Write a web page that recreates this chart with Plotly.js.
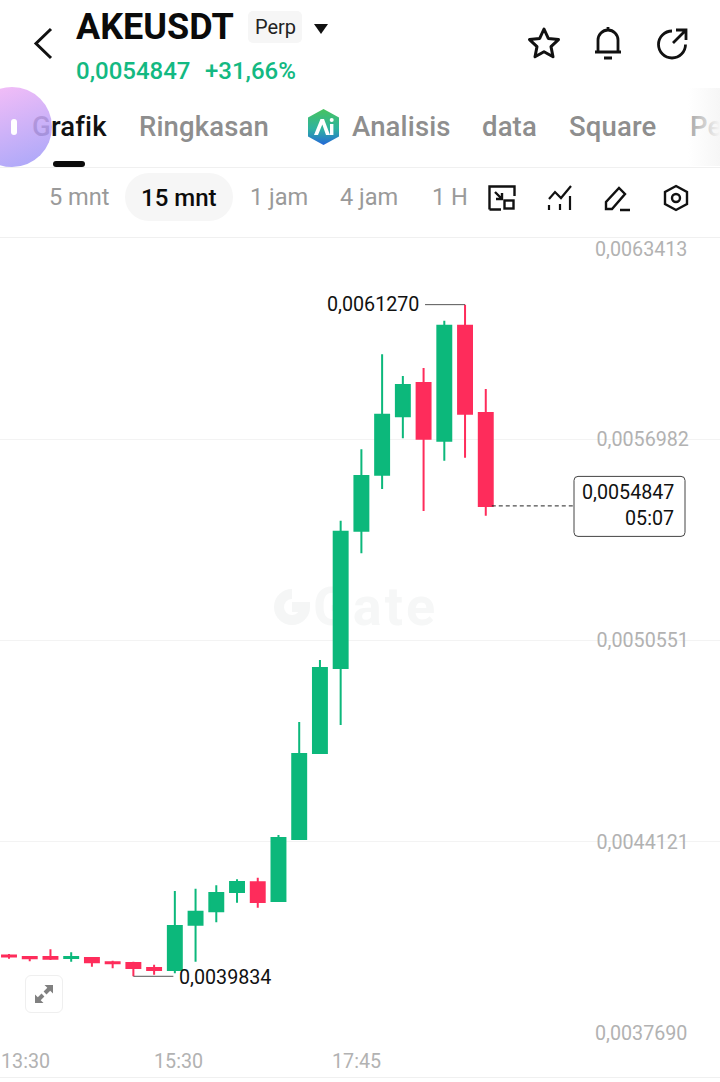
<!DOCTYPE html>
<html><head><meta charset="utf-8">
<script src="https://cdn.plot.ly/plotly-3.0.1.min.js"></script>
<style>
html,body{margin:0;padding:0;background:#fff;width:720px;height:1082px;overflow:hidden;font-family:Roboto,sans-serif}
#chart{position:absolute;left:0;top:0;width:720px;height:1082px;z-index:2}
.t{position:absolute;white-space:nowrap;line-height:1;z-index:4}
.tab{font-size:27.5px;color:#8e8e8e;top:113px;font-weight:500;letter-spacing:.15px}
.iv{font-size:23.6px;color:#9a9a9a;top:186px}
svg.ic{position:absolute;z-index:4;overflow:visible}
.ln{position:absolute;left:0;width:720px;height:1px;background:#f0f0f0;z-index:1}
</style></head><body>
<!-- watermark under the transparent plot -->
<svg class="ic" style="left:273px;top:588px;z-index:1" width="38" height="38" viewBox="0 0 38 38"><path d="M19 6a13 13 0 1 0 13 13H19" fill="none" stroke="#f5f6f6" stroke-width="10"/></svg>
<div class="t" style="left:313px;top:580px;font-size:54px;font-weight:700;color:#f6f7f7;z-index:1;letter-spacing:3px">Gate</div>
<div class="ln" style="top:167px"></div><div class="ln" style="top:237px"></div><div class="ln" style="top:1077px"></div>

<div id="chart"></div>

<!-- header -->
<svg class="ic" style="left:30px;top:26px" width="28" height="34"><path d="M21 3L6 17.5L21 32" fill="none" stroke="#111" stroke-width="3"/></svg>
<div class="t" style="left:76px;top:9px;font-size:36px;font-weight:700;color:#0b0b0b">AKEUSDT</div>
<div style="position:absolute;left:248px;top:11px;width:54px;height:32px;background:#f6f6f6;border-radius:5px;z-index:3"></div>
<div class="t" style="left:255px;top:17px;font-size:20px;color:#222">Perp</div>
<svg class="ic" style="left:313px;top:23px" width="16" height="12"><path d="M1 1H15L8 11Z" fill="#111"/></svg>
<div class="t" style="left:76px;top:59px;font-size:24px;font-weight:500;color:#13b982">0,0054847</div>
<div class="t" style="left:205px;top:59px;font-size:24px;font-weight:500;color:#13b982">+31,66%</div>
<svg class="ic" style="left:527px;top:26px" width="34" height="34" viewBox="0 0 34 34"><path d="M17 3l4.3 9.4 10.2 1.2-7.5 7 2 10.1-9-5-9 5 2-10.1-7.5-7 10.2-1.2z" fill="none" stroke="#111" stroke-width="3" stroke-linejoin="round"/></svg>
<svg class="ic" style="left:591px;top:25px" width="34" height="36" viewBox="0 0 34 36"><path d="M4 27H30M7 27V15a10 10 0 0 1 20 0V27M17 2V5M13 33H21" fill="none" stroke="#111" stroke-width="2.8"/></svg>
<svg class="ic" style="left:655px;top:27px" width="34" height="34" viewBox="0 0 34 34"><path d="M17 4a13.5 13.5 0 1 0 13.5 13.5M18 16L30 4M21 3H31V13" fill="none" stroke="#111" stroke-width="2.8"/></svg>

<!-- tabs -->
<div class="t tab" style="left:32px;color:#111">Grafik</div>
<div class="t tab" style="left:139px">Ringkasan</div>
<svg class="ic" style="left:306px;top:108px" width="35" height="38" viewBox="0 0 35 38">
<defs><linearGradient id="ai" x1="0" y1="0" x2="0" y2="1"><stop offset="0" stop-color="#46c35f"/><stop offset=".55" stop-color="#2fb3a0"/><stop offset="1" stop-color="#2467d8"/></linearGradient></defs>
<path d="M17.5 1L33 9.5V28.5L17.5 37L2 28.5V9.5Z" fill="url(#ai)"/><path d="M8 27L14.5 11H18L24 27H20L16.3 16.5L12 27Z" fill="#fff"/><rect x="24" y="16" width="3.4" height="11" fill="#fff"/><circle cx="25.7" cy="12" r="2" fill="#fff"/></svg>
<div class="t tab" style="left:352px">Analisis</div>
<div class="t tab" style="left:482px">data</div>
<div class="t tab" style="left:569px">Square</div>
<div class="t tab" style="left:690px">Pe</div>
<div style="position:absolute;left:688px;top:88px;width:32px;height:78px;background:linear-gradient(90deg,rgba(255,255,255,.2),#f6f6f6);z-index:5"></div>
<div style="position:absolute;left:53px;top:161px;width:32px;height:6px;border-radius:3px;background:#0b0b0b;z-index:4"></div>
<div style="position:absolute;left:-28px;top:87px;width:80px;height:80px;border-radius:50%;background:linear-gradient(160deg,#f8b6f6,#9c9bf8);opacity:.88;z-index:5"></div>
<div style="position:absolute;left:11px;top:119px;width:6px;height:16px;border-radius:3px;background:#fff;z-index:6"></div>

<!-- interval row -->
<div class="t iv" style="left:49px">5 mnt</div>
<div style="position:absolute;left:125px;top:173px;width:108px;height:48px;border-radius:24px;background:#f6f6f6;z-index:3"></div>
<div class="t iv" style="left:141px;color:#0b0b0b;font-weight:500;font-size:24px">15 mnt</div>
<div class="t iv" style="left:250px">1 jam</div>
<div class="t iv" style="left:340px">4 jam</div>
<div class="t iv" style="left:432px">1 H</div>
<svg class="ic" style="left:488px;top:185px" width="28" height="26" viewBox="0 0 28 26"><path d="M1.5 24.5V1.5H26.500V11M13 24.500H1.500M7 7L14 14M14 8V14H8" fill="none" stroke="#111" stroke-width="2.4"/><rect x="16.500" y="15.500" width="9" height="8" fill="none" stroke="#111" stroke-width="2.4"/></svg>
<svg class="ic" style="left:546px;top:185px" width="28" height="26" viewBox="0 0 28 26"><path d="M3 14L9 7L15 13L25 1" fill="none" stroke="#111" stroke-width="2.200"/><path d="M3 20V25M14 19V25M24 11V25" stroke="#111" stroke-width="2.200" fill="none"/></svg>
<svg class="ic" style="left:604px;top:185px" width="28" height="26" viewBox="0 0 28 26"><path d="M2 24V17L15 3L21 9L8 24ZM16 25H26" fill="none" stroke="#111" stroke-width="2.400"/></svg>
<svg class="ic" style="left:663px;top:184px" width="26" height="28" viewBox="0 0 26 28"><path d="M13 2L24 8V20L13 26L2 20V8Z" fill="none" stroke="#111" stroke-width="2.400"/><circle cx="13" cy="14" r="4" fill="none" stroke="#111" stroke-width="2.400"/></svg>

<!-- expand button -->
<div style="position:absolute;left:25px;top:975px;width:36px;height:36px;border:1.5px solid #efefef;border-radius:6px;background:#fff;z-index:4"></div>
<svg class="ic" style="left:34px;top:984px" width="20" height="20" viewBox="0 0 20 20"><path d="M10.500 1H19V9.500L16.200 6.700L12.500 10.400L9.600 7.500L13.300 3.800ZM9.500 19H1V10.500L3.800 13.300L7.500 9.600L10.400 12.500L6.700 16.200Z" fill="#808080"/></svg>

<script>
var times = ["13:30","13:45","14:00","14:15","14:30","14:45","15:00","15:15","15:30","15:45","16:00","16:15","16:30","16:45","17:00","17:15","17:30","17:45","18:00","18:15","18:30","18:45","19:00","19:15"];
var open  = [0.0040497,0.0040449,0.0040449,0.0040418,0.0040418,0.0040280,0.0040258,0.0040098,0.0040035,0.0041480,0.0041908,0.0042524,0.0042834,0.0042237,0.0044216,0.0046960,0.0049673,0.0054055,0.0055843,0.0057707,0.0058769,0.0056928,0.0060598,0.0057812];
var high  = [0.0040545,0.0040472,0.0040695,0.0040600,0.0040440,0.0040331,0.0040300,0.0040204,0.0042556,0.0042629,0.0042738,0.0042929,0.0042980,0.0044343,0.0047950,0.0049929,0.0054375,0.0056653,0.0059685,0.0058993,0.0059248,0.0060758,0.0061270,0.0058578];
var low   = [0.0040395,0.0040312,0.0040354,0.0040300,0.0040140,0.0040089,0.0039834,0.0039885,0.0039929,0.0040300,0.0041557,0.0042182,0.0042023,0.0042237,0.0044184,0.0046960,0.0047854,0.0053334,0.0055386,0.0057004,0.0054684,0.0056289,0.0056385,0.0054534];
var close = [0.0040465,0.0040408,0.0040395,0.0040449,0.0040280,0.0040248,0.0040098,0.0040035,0.0041439,0.0041895,0.0042492,0.0042843,0.0042205,0.0044248,0.0046929,0.0049673,0.0054023,0.0055801,0.0057758,0.0058706,0.0056992,0.0060598,0.0057790,0.0054847];
var gridPrices = [0.0056982,0.0050551,0.0044121];
var gridLabels = ["0,0056982","0,0050551","0,0044121"];
var edgePrices = [0.0063413,0.0037690];
var edgeLabels = ["0,0063413","0,0037690"];
var timeTicks = ["13:30","15:30","17:45"];
var highLabel = "0,0061270", lowLabel = "0,0039834", lastLabel = "0,0054847", countdown = "05:07";
var day = "2025-01-01 ";
var GREEN = "#0cb87b", RED = "#fe2c5b", GREY = "#b2b2b2", SIZE = 19.7;

function stamp(t){ return day + t; }
var xs = times.map(stamp);
var hi = Math.max.apply(null, high), lo = Math.min.apply(null, low), last = close[close.length-1];
var hiT = xs[high.indexOf(hi)], loT = xs[low.indexOf(lo)], lastT = xs[xs.length-1];

var anns = [];
edgePrices.forEach(function(p,i){
  anns.push({xref:"paper",yref:"y",x:689/720,y:p,xanchor:"right",yanchor:"middle",yshift:i==0?-11.5:9.5,showarrow:false,text:edgeLabels[i],font:{family:"Roboto",size:SIZE,color:GREY}});
});
var tickShift = [16,3.3,-5];
timeTicks.forEach(function(t,i){
  anns.push({xref:"x",yref:"paper",x:stamp(t),y:17/841,xanchor:"center",yanchor:"middle",xshift:tickShift[i],showarrow:false,text:t,font:{family:"Roboto",size:SIZE,color:GREY}});
});
anns.push({xref:"x",yref:"y",x:hiT,y:hi,xanchor:"right",yanchor:"middle",xshift:-44,showarrow:false,text:highLabel,font:{family:"Roboto",size:SIZE,color:"#111"}});
anns.push({xref:"x",yref:"y",x:loT,y:lo,xanchor:"left",yanchor:"middle",xshift:44,yshift:-1,showarrow:false,text:lowLabel,font:{family:"Roboto",size:SIZE,color:"#111"}});
anns.push({xref:"paper",yref:"y",x:676/720,y:last,xanchor:"right",yanchor:"middle",yshift:13,showarrow:false,text:lastLabel,font:{family:"Roboto",size:SIZE,color:"#111"}});
anns.push({xref:"paper",yref:"y",x:676/720,y:last,xanchor:"right",yanchor:"middle",yshift:-13,showarrow:false,text:countdown,font:{family:"Roboto",size:SIZE,color:"#111"}});

var shapes = [
 {type:"line",xref:"x",yref:"y",xsizemode:"pixel",xanchor:hiT,x0:-40,x1:0,y0:hi,y1:hi,line:{color:"#555",width:1}},
 {type:"line",xref:"x",yref:"y",xsizemode:"pixel",xanchor:loT,x0:0,x1:40,y0:lo,y1:lo,line:{color:"#555",width:1}},
 {type:"line",xref:"x",yref:"y",xsizemode:"pixel",xanchor:lastT,x0:6,x1:88,y0:last,y1:last,line:{color:"#222",width:1,dash:"4px,3px"}},
 {type:"path",xref:"paper",yref:"y",xsizemode:"pixel",ysizemode:"pixel",xanchor:0,yanchor:last,
  path:"M578,29.5 H681 Q685,29.500 685,25.500 V-26.500 Q685,-30.500 681,-30.500 H578 Q574,-30.500 574,-26.500 V25.500 Q574,29.500 578,29.500 Z",
  fillcolor:"#fff",line:{color:"#444",width:1},layer:"below"}
];

Plotly.newPlot("chart",[{
  type:"candlestick",x:xs,open:open,high:high,low:low,close:close,whiskerwidth:0,
  increasing:{line:{color:GREEN,width:2},fillcolor:GREEN},
  decreasing:{line:{color:RED,width:2},fillcolor:RED}
}],{
  width:720,height:1082,showlegend:false,boxgap:0.04,
  paper_bgcolor:"rgba(0,0,0,0)",plot_bgcolor:"rgba(0,0,0,0)",
  margin:{l:0,r:0,t:237,b:4,pad:0},
  xaxis:{type:"date",range:["2025-01-01 13:23:29","2025-01-01 22:04:30"],rangeslider:{visible:false},showgrid:false,zeroline:false,showticklabels:false,ticks:"",showline:false},
  yaxis:{side:"right",range:[0.0036588,0.0063429],tickvals:gridPrices,ticktext:gridLabels,showgrid:true,gridcolor:"#f3f3f3",gridwidth:1,zeroline:false,showline:false,
    ticks:"inside",ticklen:32,tickcolor:"rgba(0,0,0,0)",ticklabelposition:"inside",tickfont:{family:"Roboto",size:SIZE,color:GREY}},
  annotations:anns,shapes:shapes
},{displayModeBar:false,staticPlot:true});
</script>
</body></html>
